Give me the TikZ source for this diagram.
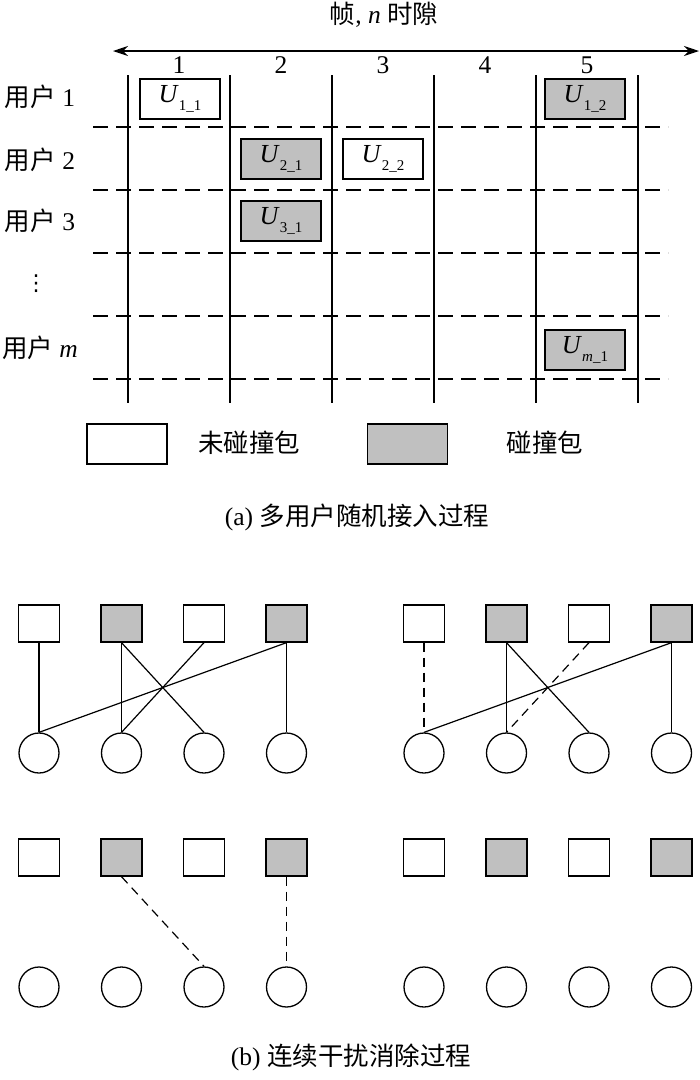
\documentclass[tikz,border=0pt]{standalone}
\usepackage{fontspec}
\setmainfont{Liberation Serif}
\newfontfamily\zhfont{Noto Sans CJK SC}
\newfontfamily\symfont{DejaVu Sans}
\usetikzlibrary{arrows.meta}
\definecolor{hitgray}{RGB}{192,192,192}
\newcommand{\zh}[1]{{\zhfont #1}}
\newcommand{\upk}[2]{\textit{U}\raisebox{-8pt}{\fontsize{15}{15}\selectfont #1\_#2}}

\begin{document}
\begin{tikzpicture}[x=1pt,y=-1pt,font=\fontsize{25.5}{30}\selectfont,
  >={Stealth[length=15pt,width=10pt]},
  pkt/.style={draw,line width=1.3pt,minimum width=80pt,minimum height=40pt,inner sep=0pt,font=\fontsize{26}{30}\selectfont},
  hit/.style={pkt,fill=hitgray},
  src/.style={draw,line width=1.3pt,minimum width=41pt,minimum height=37pt,inner sep=0pt},
  rcv/.style={draw,circle,line width=1.3pt,minimum size=40pt,inner sep=0pt},
  link/.style={line width=1.2pt},
  sic/.style={link,dash pattern=on 9pt off 6pt}]
\useasboundingbox (0,0) rectangle (700,1080);
% (a) frame of n slots
\node (frame) at (384,15) {\zh{帧}, \textit{n} \zh{时隙}};
\coordinate (fl) at (113,51);
\coordinate (fr) at (699,51);
\draw[<->,line width=1.3pt] (fl) -- (fr);
\foreach \x/\xtext in {179/1,281/2,383/3,485/4,587/5} \node (n\xtext) at (\x,65) {\xtext};
\foreach \x in {128,230,332,434,536,638} \draw[line width=1.5pt] (\x,75) -- (\x,403);
\foreach \y in {127,190,253,316,379} \draw[line width=1.5pt,dash pattern=on 15pt off 8pt] (93,\y) -- (668,\y);
\node (u1) at (40,97) {\zh{用户} 1};
\node (u2) at (40,160) {\zh{用户} 2};
\node (u3) at (40,221) {\zh{用户} 3};
\node (udots) at (36,284) {{\symfont\fontsize{22}{26}\selectfont ⋮}};
\node (um) at (40,348) {\zh{用户} \textit{m}};
\node[pkt] (p11) at (180,99) {\upk{1}{1}};
\node[hit] (p12) at (585,99) {\upk{1}{2}};
\node[hit] (p21) at (281,159) {\upk{2}{1}};
\node[pkt] (p22) at (383,159) {\upk{2}{2}};
\node[hit] (p31) at (281,221) {\upk{3}{1}};
\node[hit] (pm1) at (585,350) {\upk{\textit{m}}{1}};
% legend
\node[pkt] (keyfree) at (127,444) {};
\node (keyfreetxt) at (249,443) {\zh{未碰撞包}};
\node[hit] (keyhit) at (407.5,444) {};
\node (keyhittxt) at (545,443) {\zh{碰撞包}};
\node (capa) at (357,517) {(a) \zh{多用户随机接入过程}};
% (b) four stages of SIC
\foreach \g/\gx/\gy in {pa/39/623.5,pb/424/623.5,pc/39/857.5,pd/424/857.5}{
  \foreach \i/\f in {1/white,2/hitgray,3/white,4/hitgray}{
    \node[src,fill=\f] (\g s\i) at ({\gx+82.5*(\i-1)},\gy) {};
    \node[rcv] (\g r\i) at ({\gx+82.5*(\i-1)},\gy+129.5) {};
  }
}
\foreach \a/\b in {1/1,2/2,2/3,3/2,4/1,4/4} \draw[link] (pas\a.south) -- (par\b.north);
\foreach \a/\b in {2/2,2/3,4/1,4/4} \draw[link] (pbs\a.south) -- (pbr\b.north);
\foreach \a/\b in {1/1,3/2} \draw[sic] (pbs\a.south) -- (pbr\b.north);
\foreach \a/\b in {2/3,4/4} \draw[sic] (pcs\a.south) -- (pcr\b.north);
\node (capb) at (351,1057) {(b) \zh{连续干扰消除过程}};
\end{tikzpicture}
\end{document}
